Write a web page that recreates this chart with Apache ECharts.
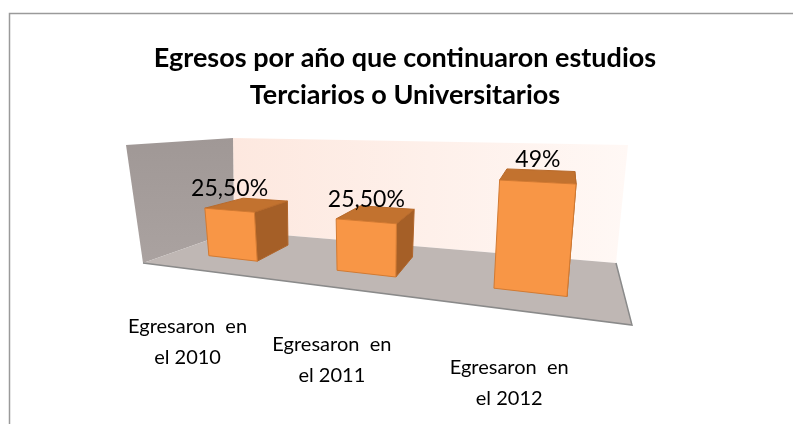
<!DOCTYPE html>
<html>
<head>
<meta charset="utf-8">
<script src="https://cdn.jsdelivr.net/npm/echarts@6/dist/echarts.min.js"></script>
<style>
  html, body { margin: 0; padding: 0; background: #fff; }
  #main { width: 793px; height: 424px; }
</style>
</head>
<body>
<div id="main"></div>
<script>
// data
var categories = ['Egresaron  en\nel 2010', 'Egresaron  en\nel 2011', 'Egresaron  en\nel 2012'];
var values = [25.5, 25.5, 49];
var valueLabels = ['25,50%', '25,50%', '49%'];
var axisMax = 60;

var FONT = 'Lato, "Liberation Sans", sans-serif';

// screen corners of the 3d box, key = x y z (0/1)
var BOX = {
    '000': [143, 263], '100': [632, 325], '001': [234, 231], '101': [616, 263],
    '010': [126, 145], '110': [648, 170], '011': [233, 138], '111': [628, 145]
};
var Z_FRONT = 0.35, Z_BACK = 0.78, BAR_RATIO = 0.4;

function proj(x, y, z){
    var px = 0, py = 0;
    for(var bx = 0; bx < 2; bx++){
        for(var by = 0; by < 2; by++){
            for(var bz = 0; bz < 2; bz++){
                var w = (bx ? x : 1 - x) * (by ? y : 1 - y) * (bz ? z : 1 - z);
                var p = BOX['' + bx + by + bz];
                px += w * p[0];
                py += w * p[1];
            }
        }
    }
    return [px, py];
}
// perspective squeeze along the category direction
function warp(t){
    var a = 1.364;
    return t / (a * (1 - t) + t);
}

function poly(points, fill, stroke, lw){
    return {
        type: 'polygon',
        shape: { points: points },
        style: { fill: fill, stroke: stroke || null, lineWidth: lw || 0 }
    };
}

function renderWalls(params, api){
    var back = [proj(0,1,1), proj(1,1,1), proj(1,0,1), proj(0,0,1)];
    var left = [proj(0,1,0), proj(0,1,1), proj(0,0,1), proj(0,0,0)];
    var floor = [proj(0,0,0), proj(0,0,1), proj(1,0,1), proj(1,0,0)];
    return {
        type: 'group',
        children: [
            poly(back, new echarts.graphic.LinearGradient(0, 0, 1, 0, [
                { offset: 0, color: '#fde8df' }, { offset: 1, color: '#fff8f5' }
            ])),
            poly(left, new echarts.graphic.LinearGradient(0, 0, 0, 1, [
                { offset: 0, color: '#a09896' }, { offset: 1, color: '#aaa2a0' }
            ])),
            poly(floor, '#bfb7b4'),
            { type: 'polyline', shape: { points: [proj(0,0,0), proj(1,0,0), proj(1,0,1)] },
              style: { stroke: '#8a8a8a', lineWidth: 1.5, fill: null } }
        ]
    };
}

function renderBar(params, api){
    var cs = params.coordSys;
    var i = api.value(0);
    var base = api.coord([i, 0]);
    var top = api.coord([i, api.value(1)]);
    var hw = api.size([1, 0])[0] * BAR_RATIO / 2 / cs.width;
    var xc = (base[0] - cs.x) / cs.width;
    var yv = (base[1] - top[1]) / cs.height;
    var x0 = warp(xc - hw), x1 = warp(xc + hw);
    var z0 = Z_FRONT, z1 = Z_BACK;

    var side = [proj(x1,0,z0), proj(x1,yv,z0), proj(x1,yv,z1), proj(x1,0,z1)];
    var cap = [proj(x0,yv,z0), proj(x0,yv,z1), proj(x1,yv,z1), proj(x1,yv,z0)];
    var front = [proj(x0,0,z0), proj(x0,yv,z0), proj(x1,yv,z0), proj(x1,0,z0)];

    var lp = proj((x0 + x1) / 2, yv, z0);
    var cp = proj(warp(xc), 0, 0);
    return {
        type: 'group',
        children: [
            poly(side, '#a55f27', '#b0652a', 1),
            poly(cap, '#c2722f', '#b86a2b', 1),
            poly(front, '#f89646', '#d27a32', 1),
            { type: 'text', x: lp[0], y: lp[1] - 22,
              style: { text: valueLabels[i], fill: '#000', font: '23px ' + FONT,
                       align: 'center', verticalAlign: 'middle',
                       textAlign: 'center', textVerticalAlign: 'middle' } },
            { type: 'text', x: cp[0] - 18, y: cp[1] + 40,
              style: { text: categories[i], fill: '#000', font: '20px ' + FONT, lineHeight: 31,
                       align: 'center', verticalAlign: 'top',
                       textAlign: 'center', textVerticalAlign: 'top' } }
        ]
    };
}

var chart = echarts.init(document.getElementById('main'));
chart.setOption({
    animation: false,
    grid: { left: 0, top: 0, width: 300, height: 300, show: false },
    xAxis: { type: 'category', data: categories, show: false },
    yAxis: { type: 'value', min: 0, max: axisMax, show: false },
    graphic: [
        { type: 'polyline', shape: { points: [[9.5, 424], [9.5, 13.5], [793, 13.5]] },
          style: { stroke: '#9a9a9a', lineWidth: 1.5, fill: null } },
        { type: 'text', x: 405, y: 40,
          style: { text: 'Egresos por año que continuaron estudios\nTerciarios o Universitarios',
                   fill: '#000', font: 'bold 27px ' + FONT, lineHeight: 37,
                   align: 'center', verticalAlign: 'top',
                   textAlign: 'center', textVerticalAlign: 'top' } }
    ],
    series: [
        { type: 'custom', z: 1, renderItem: renderWalls, data: [[0, 0]], silent: true },
        { type: 'custom', z: 2, renderItem: renderBar, silent: true,
          data: values.map(function(v, i){ return [i, v]; }) }
    ]
});
</script>
</body>
</html>
